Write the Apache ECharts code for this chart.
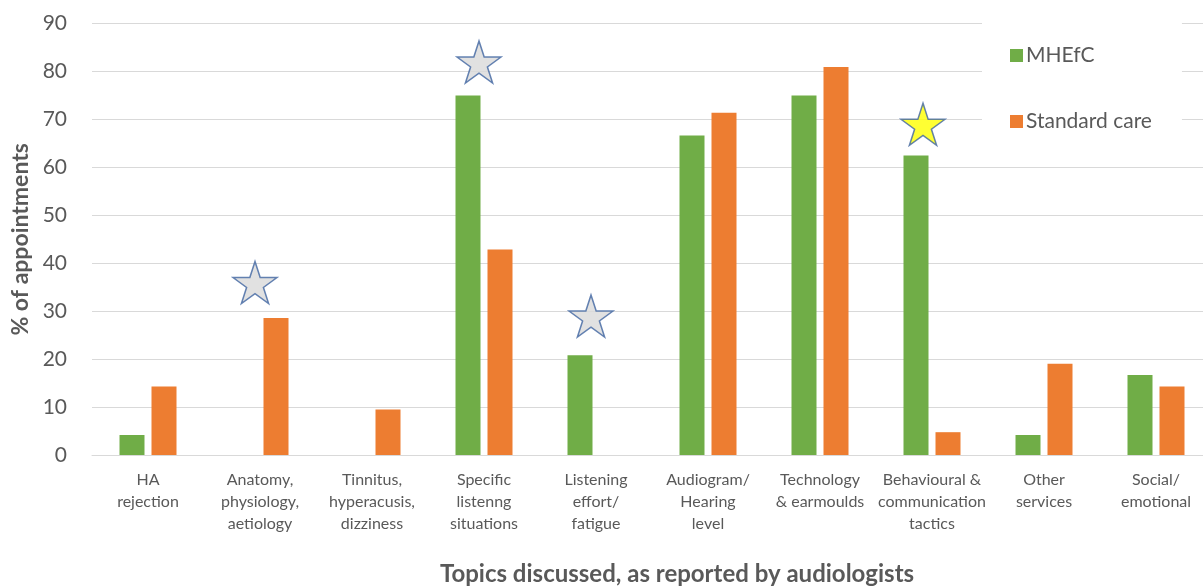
<!DOCTYPE html>
<html>
<head>
<meta charset="utf-8">
<script src="https://cdn.jsdelivr.net/npm/echarts@6/dist/echarts.min.js"></script>
<style>html,body{margin:0;padding:0;background:#fff;overflow:hidden;width:1203px;height:586px}#c{width:1212px;height:586px}</style>
</head>
<body>
<div id="c"></div>
<script>
var categories = ["HA\nrejection", "Anatomy,\nphysiology,\naetiology", "Tinnitus,\nhyperacusis,\ndizziness", "Specific\nlistenng\nsituations", "Listening\neffort/\nfatigue", "Audiogram/\nHearing\nlevel", "Technology\n& earmoulds", "Behavioural &\ncommunication\ntactics", "Other\nservices", "Social/\nemotional"];
var mhefc = [4.17, 0, 0, 75, 20.83, 66.67, 75, 62.5, 4.17, 16.67];
var standardCare = [14.29, 28.57, 9.52, 42.86, 0, 71.43, 80.95, 4.76, 19.05, 14.29];
var grayStars = [null, 36, null, 82, 29, null, null, null, null, null];
var yellowStars = [null, null, null, null, null, null, null, 69, null, null];
var yTicks = [0, 10, 20, 30, 40, 50, 60, 70, 80, 90];

var starPath = 'path://M50,0 L61.2,34.5 L97.6,34.5 L68.2,55.9 L79.4,90.5 L50,69.1 L20.6,90.5 L31.8,55.9 L2.4,34.5 L38.8,34.5 Z';
var txt = '#595959';
var font = 'Lato, "Open Sans", sans-serif';

var chart = echarts.init(document.getElementById('c'), null, {renderer: 'canvas'});
chart.setOption({
  animation: false,
  backgroundColor: '#fff',
  textStyle: {fontFamily: font},
  title: {
    text: 'Topics discussed, as reported by audiologists',
    left: 672, top: 557, textAlign: 'center',
    textStyle: {fontFamily: font, fontSize: 24, fontWeight: 'bold', color: txt}
  },
  grid: {left: 92, right: 0, top: 23.7, bottom: 131, containLabel: false},
  legend: {
    data: ['MHEfC', 'Standard care'],
    orient: 'vertical',
    left: 982, top: 20,
    padding: [25, 30, 20, 28],
    backgroundColor: '#fff',
    itemWidth: 13, itemHeight: 13, itemGap: 45,
    icon: 'rect',
    textStyle: {fontFamily: font, fontSize: 21, color: txt, lineHeight: 20, padding: [0, 0, 0, -2]}
  },
  xAxis: {
    type: 'category',
    data: categories,
    axisLine: {lineStyle: {color: '#d9d9d9', width: 1}},
    axisTick: {show: false},
    axisLabel: {interval: 0, color: txt, fontSize: 16, lineHeight: 22, margin: 14, fontFamily: font}
  },
  yAxis: {
    type: 'value', min: 0, max: 90, interval: 10,
    name: '% of appointments', nameLocation: 'middle', nameGap: 60, nameRotate: 90,
    nameTextStyle: {fontFamily: font, fontSize: 23, fontWeight: 'bold', color: txt},
    axisLine: {show: false}, axisTick: {show: false},
    axisLabel: {color: txt, fontSize: 21, margin: 25, fontFamily: font,
      formatter: function (v) { return yTicks.indexOf(v) >= 0 ? String(v) : ''; }},
    splitLine: {lineStyle: {color: '#d9d9d9', width: 1}}
  },
  series: [
    {name: 'MHEfC', type: 'bar', data: mhefc, barWidth: 25, barGap: '28%',
     itemStyle: {color: '#70ad47'}},
    {name: 'Standard care', type: 'bar', data: standardCare, barWidth: 25, barGap: '28%',
     itemStyle: {color: '#ed7d31'}},
    {name: 'stars', type: 'scatter', data: grayStars, symbol: starPath, symbolSize: [44, 42],
     symbolOffset: [-5, 0], z: 5,
     itemStyle: {color: '#d9d9d9', borderColor: '#3f64a0', borderWidth: 1.5}},
    {name: 'star2', type: 'scatter', data: yellowStars, symbol: starPath, symbolSize: [44, 42],
     symbolOffset: [-9, 0], z: 5,
     itemStyle: {color: '#ffff00', borderColor: '#3f64a0', borderWidth: 1.5}}
  ]
});
</script>
</body>
</html>
